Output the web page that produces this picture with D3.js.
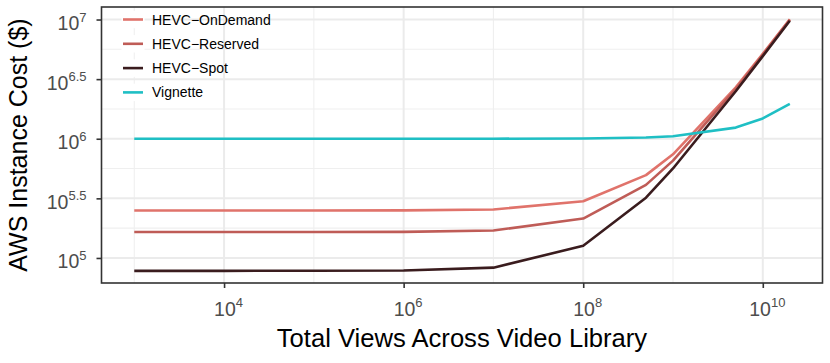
<!DOCTYPE html>
<html>
<head>
<meta charset="utf-8">
<script src="https://cdn.jsdelivr.net/npm/d3@7"></script>
<style>
  body { margin: 0; background: #fff; }
  text { font-family: "Liberation Sans", Arial, Helvetica, sans-serif; }
</style>
</head>
<body>
<div id="chart"></div>
<script>
// values
var views = [1e3, 1e4, 1e5, 1e6, 1e7, 1e8, 5e8, 1e9, 5e9, 1e10, 2e10];
var onDemand = [250000, 250000, 250050, 250500, 254900, 299000, 495000, 740000, 2700000, 5150000, 10050000];
var reserved = [165000, 165000, 165050, 165500, 169900, 214000, 410000, 655000, 2615000, 5065000, 9965000];
var spot = [78000, 78000, 78050, 78500, 82900, 126500, 320000, 563000, 2500000, 4930000, 9780000];
var vignette = [1000000, 1000000, 1000000, 1000000, 1000500, 1005000, 1024000, 1048000, 1240000, 1480000, 1960000];

var seriesNames = ["HEVC\u2212OnDemand", "HEVC\u2212Reserved", "HEVC\u2212Spot", "Vignette"];
var seriesColors = ["#E0736B", "#BF5C57", "#3A1C1E", "#1FBFC4"];

var xTickExps = ["4", "6", "8", "10"];
var xMinorExps = [3, 5, 7, 9];
var yTickExps = ["5", "5.5", "6", "6.5", "7"];
var yMinorExps = [5.25, 5.75, 6.25, 6.75];

var xTitle = "Total Views Across Video Library";
var yTitle = "AWS Instance Cost ($)";

var width = 830, height = 363;
var pLeft = 101.5, pRight = 822.5, pTop = 7, pBottom = 283;

var svg = d3.select("#chart").append("svg")
  .attr("width", width)
  .attr("height", height);

var x = d3.scaleLog()
  .domain([Math.pow(10, 2.635), Math.pow(10, 10.665)])
  .range([pLeft, pRight]);
var y = d3.scaleLog()
  .domain([Math.pow(10, 4.79), Math.pow(10, 7.105)])
  .range([pBottom, pTop]);

var xTicks = xTickExps.map(function(e) { return Math.pow(10, +e); });
var yTicks = yTickExps.map(function(e) { return Math.pow(10, +e); });

// grid
var grid = svg.append("g");
grid.selectAll("line.ymin")
  .data(yMinorExps)
  .enter().append("line")
  .attr("x1", pLeft).attr("x2", pRight)
  .attr("y1", function(d) { return y(Math.pow(10, d)); })
  .attr("y2", function(d) { return y(Math.pow(10, d)); })
  .attr("stroke", "#EFEFEF").attr("stroke-width", 1.1);
grid.selectAll("line.xmin")
  .data(xMinorExps)
  .enter().append("line")
  .attr("y1", pTop).attr("y2", pBottom)
  .attr("x1", function(d) { return x(Math.pow(10, d)); })
  .attr("x2", function(d) { return x(Math.pow(10, d)); })
  .attr("stroke", "#EFEFEF").attr("stroke-width", 1.1);
grid.selectAll("line.ymaj")
  .data(yTicks)
  .enter().append("line")
  .attr("x1", pLeft).attr("x2", pRight)
  .attr("y1", function(d) { return y(d); })
  .attr("y2", function(d) { return y(d); })
  .attr("stroke", "#EBEBEB").attr("stroke-width", 2);
grid.selectAll("line.xmaj")
  .data(xTicks)
  .enter().append("line")
  .attr("y1", pTop).attr("y2", pBottom)
  .attr("x1", function(d) { return x(d); })
  .attr("x2", function(d) { return x(d); })
  .attr("stroke", "#EBEBEB").attr("stroke-width", 2);

// lines
var series = [onDemand, reserved, spot, vignette];
var line = d3.line()
  .x(function(d, i) { return x(views[i]); })
  .y(function(d) { return y(d); });

svg.append("g").selectAll("path")
  .data(series)
  .enter().append("path")
  .attr("d", line)
  .attr("fill", "none")
  .attr("stroke", function(d, i) { return seriesColors[i]; })
  .attr("stroke-width", 2.6)
  .attr("stroke-linejoin", "round");

// legend, keys get a white box like ggplot
var legend = svg.append("g");
var rows = legend.selectAll("g")
  .data(seriesNames)
  .enter().append("g")
  .attr("transform", function(d, i) { return "translate(0," + (19.5 + i * 24.3) + ")"; });
rows.append("rect")
  .attr("x", 121.5).attr("y", -8.7)
  .attr("width", 23).attr("height", 17.4)
  .attr("fill", "#fff");
rows.append("line")
  .attr("x1", 123).attr("x2", 143)
  .attr("stroke", function(d, i) { return seriesColors[i]; })
  .attr("stroke-width", 2.6);
rows.append("text")
  .attr("x", 152).attr("y", 5)
  .attr("font-size", 14)
  .attr("fill", "#000")
  .text(function(d) { return d; });

// panel border
svg.append("rect")
  .attr("x", pLeft).attr("y", pTop)
  .attr("width", pRight - pLeft).attr("height", pBottom - pTop)
  .attr("fill", "none").attr("stroke", "#333").attr("stroke-width", 1.6);

// axes
function power(sel, exps, baseSize, supSize, rise) {
  sel.each(function(d, i) {
    var t = d3.select(this).text("");
    t.append("tspan").attr("font-size", baseSize).text("10");
    t.append("tspan").attr("font-size", supSize).attr("dy", -rise).text(exps[i]);
  });
}

var yAxis = d3.axisLeft(y).tickValues(yTicks).tickSize(5).tickPadding(10);
var gy = svg.append("g")
  .attr("transform", "translate(" + pLeft + ",0)")
  .call(yAxis);
gy.attr("font-family", null).attr("font-size", null);
gy.select(".domain").remove();
gy.selectAll(".tick line").attr("stroke", "#333").attr("stroke-width", 1.6);
gy.selectAll(".tick text")
  .attr("dy", null).attr("y", 10)
  .attr("fill", "#4D4D4D")
  .call(power, yTickExps, 19.5, 13, 8.5);

var xAxis = d3.axisBottom(x).tickValues(xTicks).tickSize(5);
var gx = svg.append("g")
  .attr("transform", "translate(0," + pBottom + ")")
  .call(xAxis);
gx.attr("font-family", null).attr("font-size", null);
gx.select(".domain").remove();
gx.selectAll(".tick line").attr("stroke", "#333").attr("stroke-width", 1.6);
gx.selectAll(".tick text")
  .attr("dy", null).attr("y", 32.7)
  .attr("fill", "#4D4D4D")
  .call(power, xTickExps, 19.5, 13, 8.7);
gx.selectAll(".tick text").attr("dx", 4);

// titles
svg.append("text")
  .attr("x", (pLeft + pRight) / 2).attr("y", 347)
  .attr("text-anchor", "middle")
  .attr("font-size", 25.6)
  .text(xTitle);
svg.append("text")
  .attr("transform", "translate(27," + ((pTop + pBottom) / 2) + ") rotate(-90)")
  .attr("text-anchor", "middle")
  .attr("font-size", 25)
  .text(yTitle);
</script>
</body>
</html>
